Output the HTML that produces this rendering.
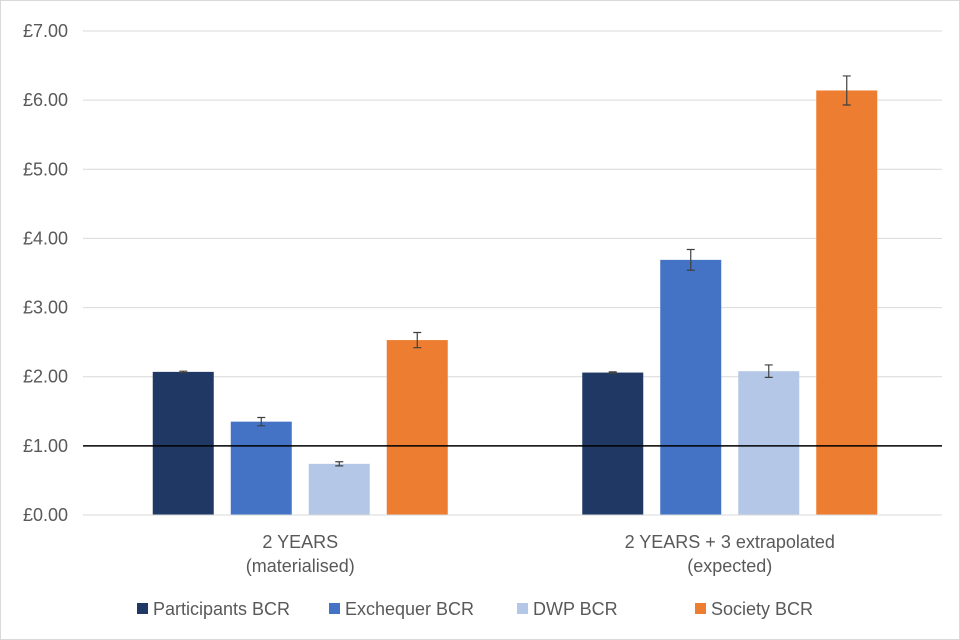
<!DOCTYPE html>
<html><head><meta charset="utf-8"><style>
body{margin:0;background:#fff;}
svg{display:block;font-family:"Liberation Sans",Arial,sans-serif;}
</style></head><body>
<svg id="chart" width="960" height="640">
<rect x="0.5" y="0.5" width="959" height="639" fill="#fff" stroke="#d9d9d9"/>
<g id="grid"></g><g id="bars"></g><g id="axes"></g><g id="legend"></g>
</svg>
<script>
const categories=[["2 YEARS","(materialised)"],["2 YEARS + 3 extrapolated","(expected)"]];
const seriesNames=["Participants BCR","Exchequer BCR","DWP BCR","Society BCR"];
const seriesColors=["#1f3864","#4472c4","#b4c7e7","#ed7d31"];
const participants=[2.07,2.06];
const exchequer=[1.35,3.69];
const dwp=[0.74,2.08];
const society=[2.53,6.14];
const errParticipants=[0.01,0.01];
const errExchequer=[0.06,0.15];
const errDwp=[0.03,0.09];
const errSociety=[0.11,0.21];
const yTicks=[0,1,2,3,4,5,6,7];
const yTickLabels=["£0.00","£1.00","£2.00","£3.00","£4.00","£5.00","£6.00","£7.00"];
const refLine=1;

const NS="http://www.w3.org/2000/svg";
const x0=83,x1=942,yBase=515,yTop=31,yMax=7;
const y=v=>yBase-(v/yMax)*(yBase-yTop);
const groupW=(x1-x0)/categories.length;
const barW=61,gap=17;
function mk(t,a,p){const e=document.createElementNS(NS,t);for(const k in a)e.setAttribute(k,a[k]);p.appendChild(e);return e;}
const grid=document.getElementById('grid'),bars=document.getElementById('bars'),axes=document.getElementById('axes'),legend=document.getElementById('legend');
yTicks.forEach((v,i)=>{
 if(v>0){const l=mk('line',{x1:x0,x2:x1,y1:y(v),y2:y(v),stroke:'#d9d9d9','stroke-width':1},grid);
 
 }
 const t=mk('text',{x:68,y:y(v)+6,'text-anchor':'end','font-size':18,fill:'#595959'},axes);
 t.textContent=yTickLabels[i];
 
 
});
const all=[participants,exchequer,dwp,society],errs=[errParticipants,errExchequer,errDwp,errSociety];
categories.forEach((c,gi)=>{
 const cx=x0+groupW*(gi+0.5)+2.5;
 const total=4*barW+3*gap;
 all.forEach((s,si)=>{
  const bx=cx-total/2+si*(barW+gap);
  const r=mk('rect',{x:bx,y:y(s[gi]),width:barW,height:yBase-y(s[gi]),fill:seriesColors[si]},bars);
  
  
  const e=errs[si][gi],mx=bx+barW/2,hi=y(s[gi]+e),lo=y(s[gi]-e);
  const eb=mk('path',{d:`M${mx},${hi}V${lo}M${mx-4},${hi}H${mx+4}M${mx-4},${lo}H${mx+4}`,stroke:'#404040','stroke-width':1.2,fill:'none'},bars);
  
  
 });
 c.forEach((ln,li)=>{
  const t=mk('text',{x:cx,y:548+li*24,'text-anchor':'middle','font-size':18,fill:'#595959'},axes);
  t.textContent=ln;
  
  
 });
});
const base=mk('line',{x1:x0,x2:x1,y1:yBase,y2:yBase,stroke:'#d9d9d9','stroke-width':1},axes);


const rl=mk('line',{x1:x0,x2:x1,y1:y(refLine),y2:y(refLine),stroke:'#000','stroke-width':1.5},axes);


const lx=[137,329,517,695];
seriesNames.forEach((n,i)=>{
 const g=mk('g',{},legend);
 
 
 mk('rect',{x:lx[i],y:603,width:11,height:11,fill:seriesColors[i]},g);
 const t=mk('text',{x:lx[i]+16,y:615,'font-size':18,fill:'#595959'},g);
 t.textContent=n;
});
</script>
</body></html>
